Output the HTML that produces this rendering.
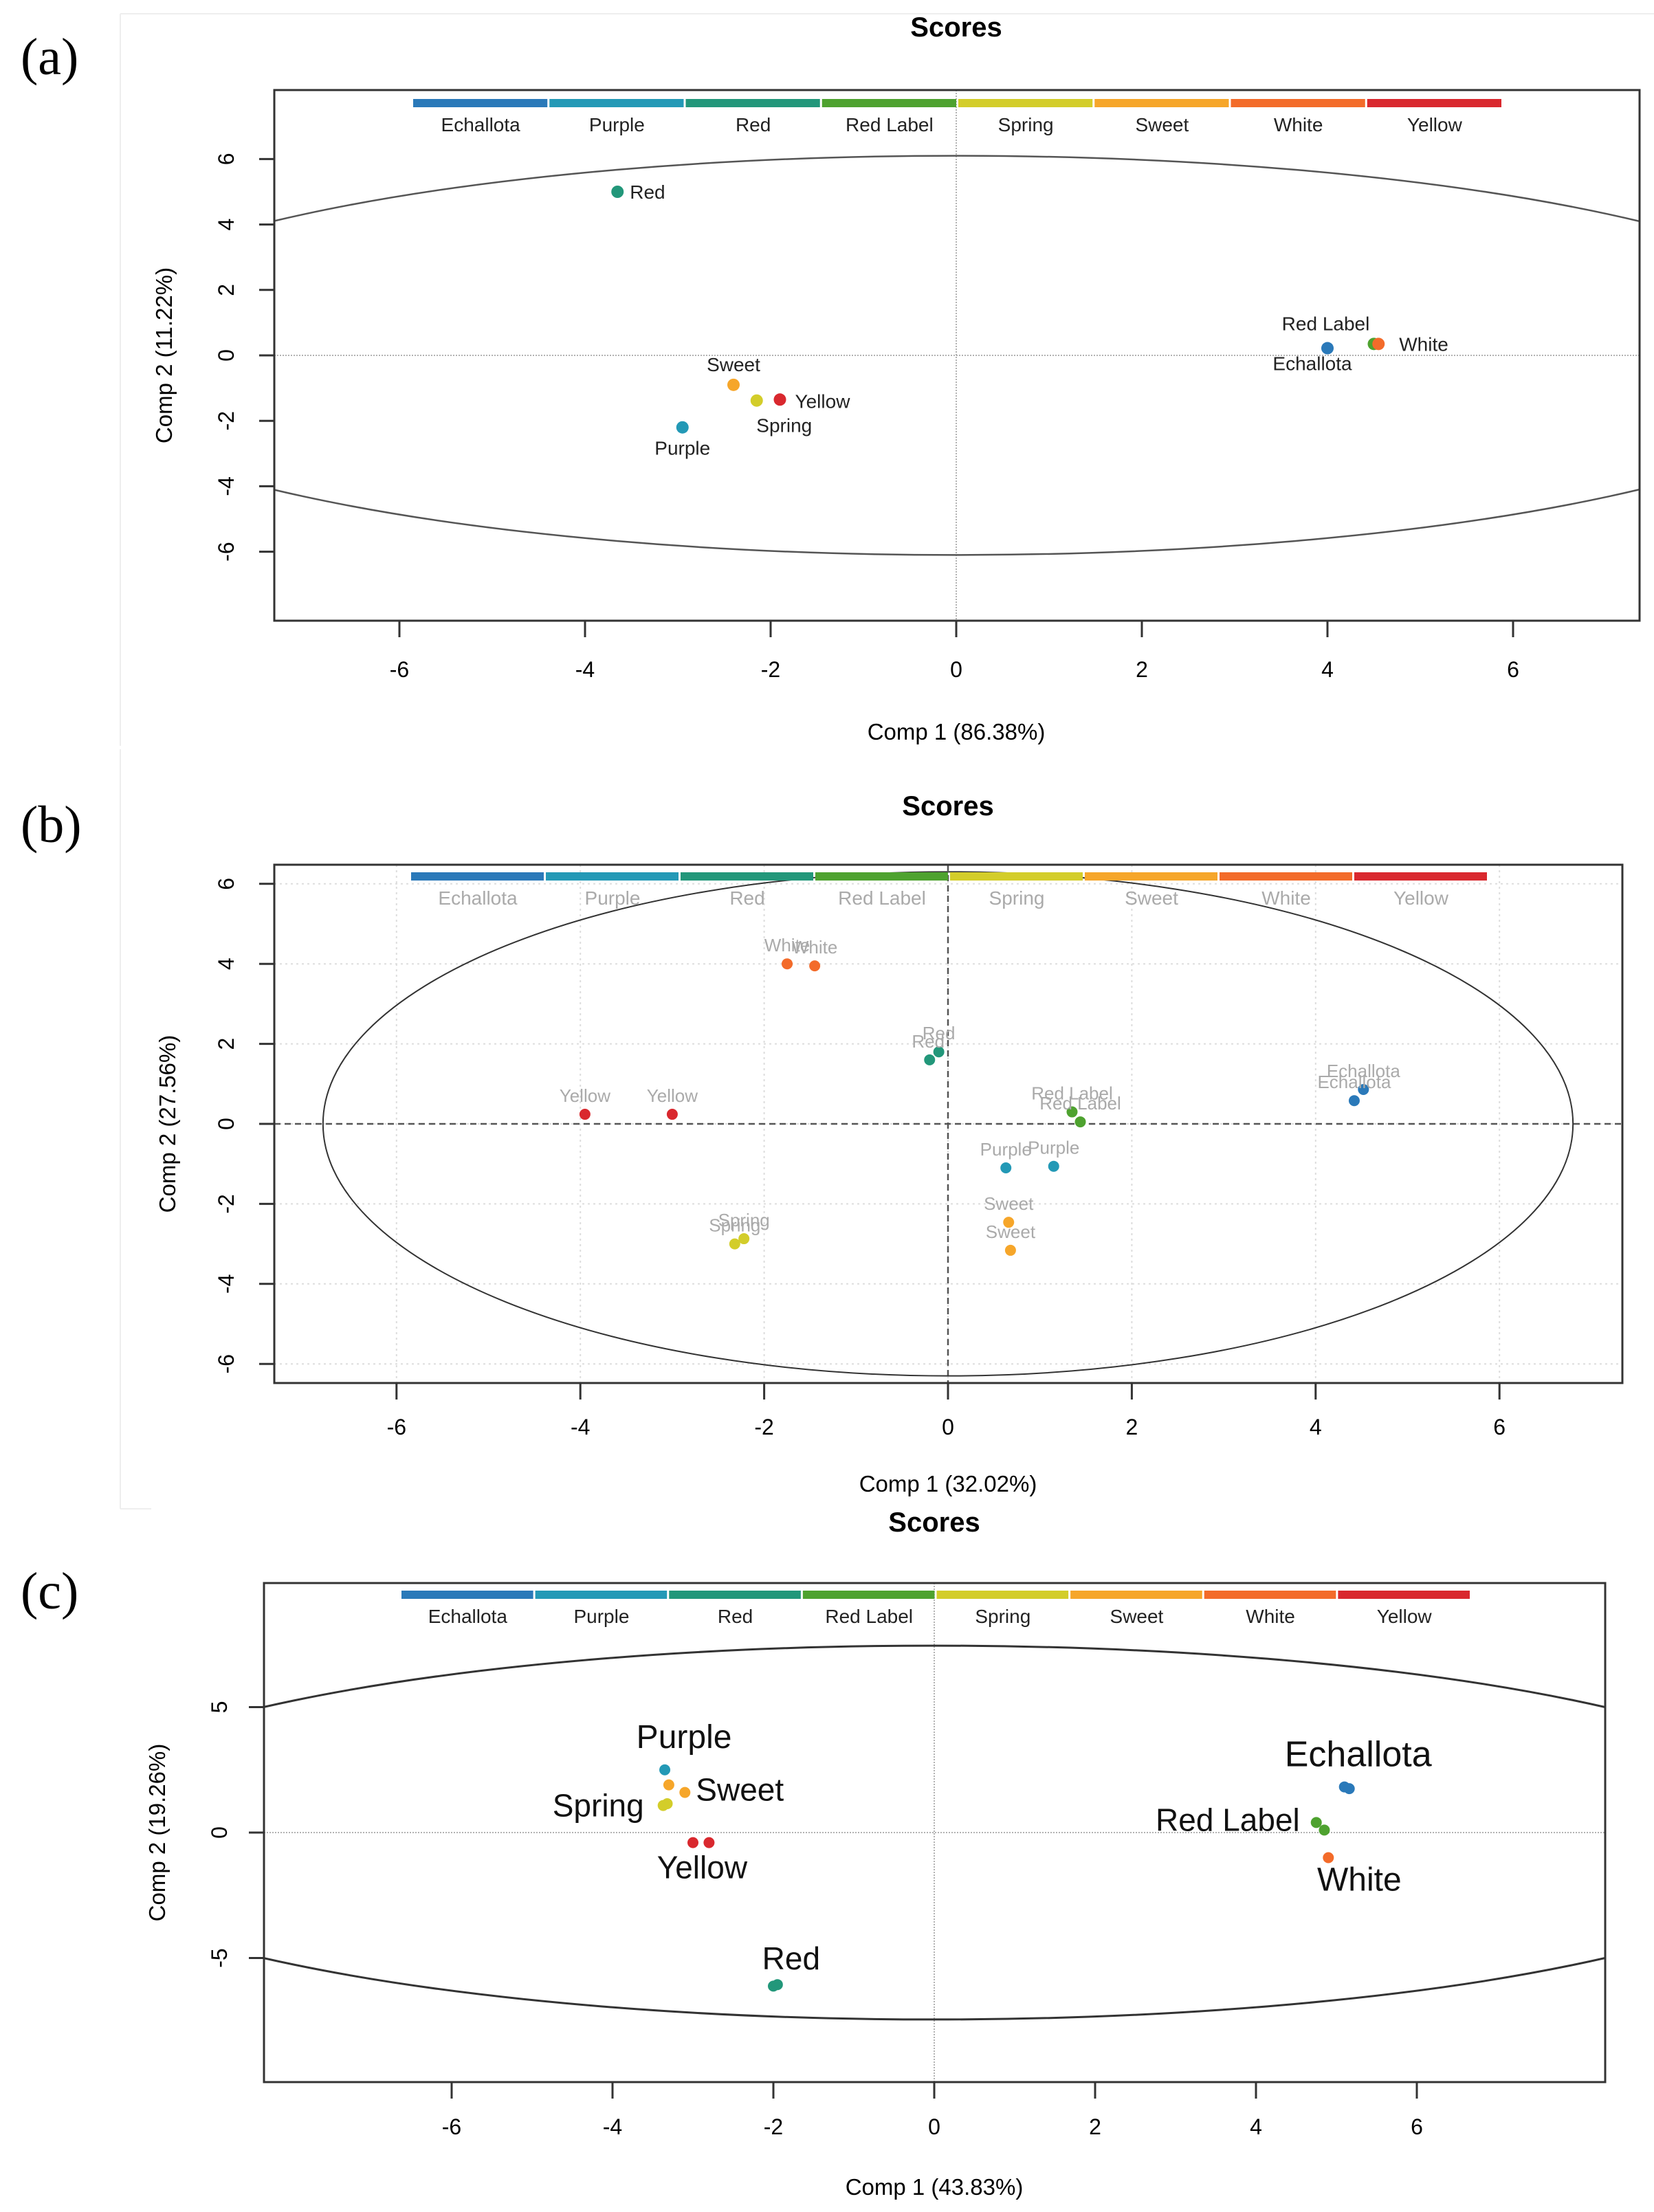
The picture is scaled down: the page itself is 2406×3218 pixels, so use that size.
<!DOCTYPE html>
<html><head><meta charset="utf-8"><style>
html,body{margin:0;padding:0;background:#fff;}
svg{display:block;font-family:"Liberation Sans",sans-serif;}
</style></head><body>
<svg id="fig" width="2406" height="3218" viewBox="0 0 2406 3218" xmlns="http://www.w3.org/2000/svg">
<rect x="0" y="0" width="2406" height="3218" fill="#fff"/>
<g stroke="#eee" stroke-width="2" fill="none">
<line x1="175" y1="20" x2="2406" y2="20"/><line x1="175" y1="20" x2="175" y2="1085"/>
<line x1="175" y1="1090" x2="175" y2="2195"/><line x1="175" y1="2195" x2="220" y2="2195"/>
</g>
</svg>
<script>
var categories = ["Echallota","Purple","Red","Red Label","Spring","Sweet","White","Yellow"];
var catColors = ["#2a79b9","#2399b6","#22977a","#4ea22f","#d3cd2a","#f6a62a","#f36b2a","#d9282e"];

// Panel A data
var aGroup = ["Red","Sweet","Spring","Yellow","Purple","Echallota","Red Label","White"];
var aX = [-3.65,-2.4,-2.15,-1.9,-2.95,4.0,4.5,4.55];
var aY = [5.0,-0.9,-1.38,-1.35,-2.2,0.22,0.35,0.35];
// Panel B data
var bGroup = ["White","White","Red","Red","Yellow","Yellow","Spring","Spring","Red Label","Red Label","Purple","Purple","Sweet","Sweet","Echallota","Echallota"];
var bX = [-1.75,-1.45,-0.2,-0.1,-3.95,-3.0,-2.32,-2.22,1.35,1.44,0.63,1.15,0.66,0.68,4.42,4.52];
var bY = [4.0,3.95,1.6,1.8,0.24,0.24,-3.0,-2.87,0.3,0.05,-1.1,-1.06,-2.46,-3.16,0.58,0.86];
// Panel C data
var cGroup = ["Purple","Sweet","Sweet","Spring","Spring","Yellow","Yellow","Red","Red","Echallota","Echallota","Red Label","Red Label","White"];
var cX = [-3.35,-3.3,-3.1,-3.37,-3.32,-3.0,-2.8,-2.0,-1.95,5.1,5.16,4.75,4.85,4.9];
var cY = [2.5,1.9,1.6,1.08,1.15,-0.4,-0.4,-6.12,-6.06,1.82,1.75,0.4,0.1,-1.0];

var xTicks = [-6,-4,-2,0,2,4,6];
var abYTicks = [-6,-4,-2,0,2,4,6];
var cYTicks = [-5,0,5];

var NS="http://www.w3.org/2000/svg";
var svg=document.getElementById('fig');
function mk(tag,attrs,parent){var e=document.createElementNS(NS,tag);for(var k in attrs)e.setAttribute(k,attrs[k]);(parent||svg).appendChild(e);return e;}
function txt(s,attrs,parent){var e=mk('text',attrs,parent);e.textContent=s;return e;}

function panel(cfg){
  var g=mk('g',{});
  
  
  var sx=function(v){return cfg.x0+v*cfg.ux;};
  var sy=function(v){return cfg.y0-v*cfg.uy;};
  var L=cfg.box[0],T=cfg.box[1],R=cfg.box[2],B=cfg.box[3];
  var lab=txt(cfg.letter,{x:30,y:cfg.letterY,'font-family':'Liberation Serif, serif','font-size':76},g);
  
  
  var t=txt('Scores',{x:cfg.titleX,y:cfg.titleY,'text-anchor':'middle','font-weight':'bold','font-size':40},g);
  
  
  var cid='clip'+cfg.letter.replace(/\W/g,'');
  var cp=mk('clipPath',{id:cid},g);mk('rect',{x:L,y:T,width:R-L,height:B-T},cp);
  var inner=mk('g',{'clip-path':'url(#'+cid+')'},g);
  if(cfg.grid){
    xTicks.forEach(function(v){mk('line',{x1:sx(v),x2:sx(v),y1:T,y2:B,stroke:'#ddd','stroke-width':2,'stroke-dasharray':'3 5'},inner);});
    cfg.yTicks.forEach(function(v){mk('line',{x1:L,x2:R,y1:sy(v),y2:sy(v),stroke:'#ddd','stroke-width':2,'stroke-dasharray':'3 5'},inner);});
  }
  var ax=cfg.dashed?{stroke:'#555','stroke-width':2.5,'stroke-dasharray':'9 6'}:{stroke:'#999','stroke-width':1.5,'stroke-dasharray':'2 2'};
  var vl=mk('line',Object.assign({x1:sx(0),x2:sx(0),y1:T,y2:B},ax),inner);
  
  
  var hl=mk('line',Object.assign({x1:L,x2:R,y1:sy(0),y2:sy(0)},ax),inner);
  
  
  var el=mk('ellipse',{cx:sx(0),cy:sy(0),rx:cfg.ea*cfg.ux,ry:cfg.eb*cfg.uy,fill:'none',stroke:cfg.ellColor,'stroke-width':cfg.ellW},inner);
  
  
  var segW=(cfg.cb[1]-cfg.cb[0])/categories.length;
  categories.forEach(function(c,i){
    var r=mk('rect',{x:cfg.cb[0]+i*segW+1,y:cfg.cbY,width:segW-3,height:12,fill:catColors[i]},g);
    
    
    var lt=txt(c,{x:cfg.cb[0]+(i+0.5)*segW,y:cfg.cbY+47,'text-anchor':'middle','font-size':28,fill:cfg.cbText},g);
    
    
  });
  var bx=mk('rect',{x:L,y:T,width:R-L,height:B-T,fill:'none',stroke:'#333','stroke-width':3},g);
  
  
  xTicks.forEach(function(v){
    mk('line',{x1:sx(v),x2:sx(v),y1:B,y2:B+24,stroke:'#333','stroke-width':3},g);
    var tl=txt((v<0?'-':'')+Math.abs(v),{x:sx(v),y:cfg.xtY,'text-anchor':'middle','font-size':32},g);
    
    
  });
  cfg.yTicks.forEach(function(v){
    mk('line',{x1:L-22,x2:L,y1:sy(v),y2:sy(v),stroke:'#333','stroke-width':3},g);
    var tl=txt((v<0?'-':'')+Math.abs(v),{x:cfg.ytX,y:sy(v),'text-anchor':'middle','font-size':32,transform:'rotate(-90 '+cfg.ytX+' '+sy(v)+')'},g);
    
    
  });
  var xt=txt(cfg.xTitle,{x:cfg.titleX,y:cfg.xTitleY,'text-anchor':'middle','font-size':33},g);
  
  
  var ym=(T+B)/2;
  var yt=txt(cfg.yTitle,{x:cfg.yTitleX,y:ym,'text-anchor':'middle','font-size':33,transform:'rotate(-90 '+cfg.yTitleX+' '+ym+')'},g);
  
  
  cfg.X.forEach(function(v,i){
    var ci=categories.indexOf(cfg.G[i]);
    var p=mk('circle',{cx:sx(v),cy:sy(cfg.Y[i]),r:cfg.r,fill:catColors[ci]},g);
    
    
  });
  cfg.labels.forEach(function(l){
    var i=l[0];
    var fs=l[4]||cfg.lfs;
    var lt=txt(cfg.G[i],{x:sx(cfg.X[i])+l[1],y:sy(cfg.Y[i])+l[2],'text-anchor':l[3],'font-size':fs,fill:cfg.lcol},g);
    
    
  });
}

panel({name:'panel-a',letter:'(a)',letterY:108,titleX:1391,titleY:53,box:[399,131,2385,903],
  x0:1391,ux:135,y0:517,uy:47.6,yTicks:abYTicks,ea:9.94,eb:6.1,ellColor:'#555',ellW:2.5,
  cb:[600,2186],cbY:144,cbText:'#222',xtY:985,ytX:340,xTitle:'Comp 1 (86.38%)',xTitleY:1076,
  yTitle:'Comp 2 (11.22%)',yTitleX:250,X:aX,Y:aY,G:aGroup,r:9,lfs:28,lcol:'#222',grid:false,dashed:false,
  labels:[[0,18,10,'start'],[1,0,-20,'middle'],[2,40,46,'middle'],[3,22,12,'start'],[4,0,40,'middle'],[5,-22,32,'middle'],[6,-70,-20,'middle'],[7,30,10,'start']]});

panel({name:'panel-b',letter:'(b)',letterY:1225,titleX:1379,titleY:1186,box:[399,1258,2360,2012],
  x0:1379,ux:133.7,y0:1635,uy:58.2,yTicks:abYTicks,ea:6.8,eb:6.3,ellColor:'#333',ellW:2,
  cb:[597,2165],cbY:1269,cbText:'#aaa',xtY:2087,ytX:340,xTitle:'Comp 1 (32.02%)',xTitleY:2170,
  yTitle:'Comp 2 (27.56%)',yTitleX:255,X:bX,Y:bY,G:bGroup,r:8,lfs:26,lcol:'#aaa',grid:true,dashed:true,
  labels:[[0,0,-18,'middle'],[1,0,-18,'middle'],[2,-2,-18,'middle'],[3,0,-18,'middle'],[4,0,-18,'middle'],[5,0,-18,'middle'],[6,0,-18,'middle'],[7,0,-18,'middle'],[8,0,-18,'middle'],[9,0,-18,'middle'],[10,0,-18,'middle'],[11,0,-18,'middle'],[12,0,-18,'middle'],[13,0,-18,'middle'],[14,0,-18,'middle'],[15,0,-18,'middle']]});

panel({name:'panel-c',letter:'(c)',letterY:2340,titleX:1359,titleY:2228,box:[384,2303,2335,3029],
  x0:1359,ux:117,y0:2666,uy:36.5,yTicks:cYTicks,ea:11.25,eb:7.45,ellColor:'#333',ellW:3,
  cb:[583,2140],cbY:2314,cbText:'#222',xtY:3105,ytX:330,xTitle:'Comp 1 (43.83%)',xTitleY:3193,
  yTitle:'Comp 2 (19.26%)',yTitleX:240,X:cX,Y:cY,G:cGroup,r:8,lfs:46,lcol:'#111',grid:false,dashed:false,
  labels:[[0,28,-32,'middle',48],[2,16,12,'start'],[3,-28,16,'end'],[6,-10,52,'middle'],[8,20,-22,'middle'],[9,20,-30,'middle',52],[11,-24,12,'end'],[13,45,48,'middle',48]]});
</script>
</body></html>
